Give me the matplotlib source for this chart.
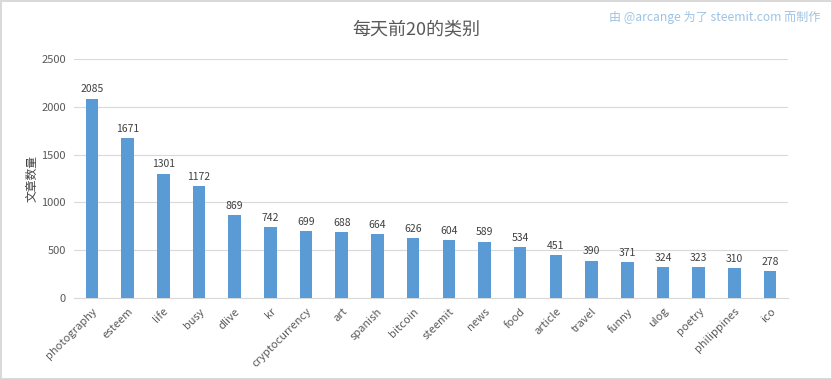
import matplotlib
matplotlib.use("Agg")
from matplotlib import pyplot as plt

plt.rcParams['font.family'] = ['Noto Sans CJK SC', 'DejaVu Sans']

categories = ["photography", "esteem", "life", "busy", "dlive", "kr", "cryptocurrency",
              "art", "spanish", "bitcoin", "steemit", "news", "food", "article",
              "travel", "funny", "ulog", "poetry", "philippines", "ico"]
counts = [2085, 1671, 1301, 1172, 869, 742, 699, 688, 664, 626,
          604, 589, 534, 451, 390, 371, 324, 323, 310, 278]
yticks = [0, 500, 1000, 1500, 2000, 2500]

fig = plt.figure(figsize=(8.32, 3.79), dpi=100)
fig.patch.set_edgecolor("#D9D9D9")
fig.patch.set_linewidth(2)
ax = fig.add_axes([0.089, 0.214, 0.858, 0.630])

x = list(range(len(categories)))
bars = ax.bar(x, counts, width=0.35, color="#5B9BD5", zorder=3)
for xi, v in zip(x, counts):
    ax.text(xi, v + 45, str(v), ha="center", va="bottom", fontsize=7.5, color="#404040")

ax.set_xlim(-0.5, len(categories) - 0.5)
ax.set_ylim(0, 2500)
ax.set_yticks(yticks)
ax.set_yticklabels([str(t) for t in yticks], fontsize=8, color="#595959")
ax.set_xticks(x)
ax.set_xticklabels(categories, rotation=45, ha="right", rotation_mode="anchor",
                   fontsize=8, color="#595959")
ax.tick_params(length=0, pad=6)
ax.grid(axis="y", color="#D9D9D9", linewidth=0.8, zorder=0)
for s in ["top", "right", "left"]:
    ax.spines[s].set_visible(False)
ax.spines["bottom"].set_color("#D9D9D9")

ax.set_ylabel("文章数量", fontsize=8.5, color="#404040", labelpad=2)
fig.text(0.5, 0.922, "每天前20的类别", ha="center", va="center", fontsize=13, color="#595959")
fig.text(0.986, 0.955, "由 @arcange 为了 steemit.com 而制作", ha="right", va="center",
         fontsize=8.7, color="#9DC3E6")

fig.savefig("out.png", dpi=100)
